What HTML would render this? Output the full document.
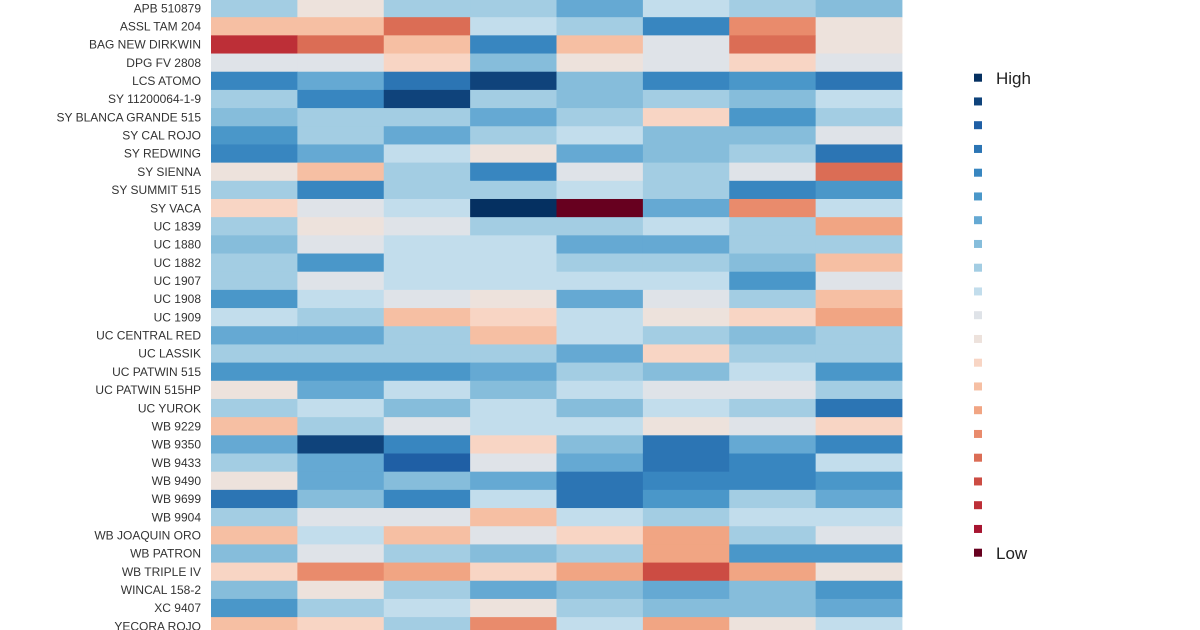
<!DOCTYPE html>
<html><head><meta charset="utf-8"><style>
html,body{margin:0;padding:0;background:#fff;width:1200px;height:630px;overflow:hidden}
svg text{font-family:"Liberation Sans",sans-serif}
</style></head><body>
<svg id="s" width="1200" height="630" xmlns="http://www.w3.org/2000/svg"></svg>
<script>
const pal=["#053061","#0f437b","#1f5fa5","#2c75b4","#3886c0","#4a97c9","#65a9d3","#86bddb","#a3cde3","#c2ddec","#dfe3e8","#ede2dc","#f8d5c4","#f6bfa3","#f1a583","#e98b6c","#db6d55","#cc4c43","#bd2f37","#a71530","#67001f"];
const rows=[
["APB 510879",[8,11,8,8,6,9,8,7]],
["ASSL TAM 204",[13,13,16,9,8,4,15,11]],
["BAG NEW DIRKWIN",[18,16,13,4,13,10,16,11]],
["DPG FV 2808",[10,10,12,7,11,10,12,10]],
["LCS ATOMO",[4,6,3,1,7,4,5,3]],
["SY 11200064-1-9",[8,4,1,8,7,8,7,9]],
["SY BLANCA GRANDE 515",[7,8,8,6,8,12,5,8]],
["SY CAL ROJO",[5,8,6,8,9,7,7,10]],
["SY REDWING",[4,6,9,11,6,7,8,3]],
["SY SIENNA",[11,13,8,4,10,8,10,16]],
["SY SUMMIT 515",[8,4,8,8,9,8,4,5]],
["SY VACA",[12,10,9,0,20,6,15,9]],
["UC 1839",[8,11,10,8,8,9,8,14]],
["UC 1880",[7,10,9,9,6,6,8,8]],
["UC 1882",[8,5,9,9,8,8,7,13]],
["UC 1907",[8,10,9,9,9,9,5,10]],
["UC 1908",[5,9,10,11,6,10,8,13]],
["UC 1909",[9,8,13,12,9,11,12,14]],
["UC CENTRAL RED",[6,6,8,13,9,8,7,8]],
["UC LASSIK",[8,8,8,8,6,12,8,8]],
["UC PATWIN 515",[5,5,5,6,8,7,9,5]],
["UC PATWIN 515HP",[11,6,9,7,9,10,10,8]],
["UC YUROK",[8,9,7,9,7,9,8,3]],
["WB 9229",[13,8,10,9,9,11,10,12]],
["WB 9350",[6,1,4,12,7,3,6,4]],
["WB 9433",[8,6,2,10,6,3,4,9]],
["WB 9490",[11,6,7,6,3,4,4,5]],
["WB 9699",[3,7,4,9,3,5,8,6]],
["WB 9904",[8,10,10,13,9,8,9,9]],
["WB JOAQUIN ORO",[13,9,13,10,12,14,8,10]],
["WB PATRON",[7,10,8,7,8,14,5,5]],
["WB TRIPLE IV",[12,15,14,12,14,17,14,11]],
["WINCAL 158-2",[7,11,8,6,7,6,7,5]],
["XC 9407",[5,8,9,11,8,7,7,6]],
["YECORA ROJO",[13,12,8,15,9,14,11,9]]];
let h="";const rh=18.18,x0=211,cw=86.375;
rows.forEach((r,i)=>{const y=-1+rh*i;
r[1].forEach((v,j)=>{h+=`<rect x="${(x0+cw*j).toFixed(2)}" y="${y.toFixed(2)}" width="${(cw+0.4).toFixed(2)}" height="${(rh+0.4).toFixed(2)}" fill="${pal[v]}"/>`;});
h+=`<text x="201" y="${(8+rh*i+4.3).toFixed(2)}" font-size="12" fill="#333" text-anchor="end">${r[0]}</text>`;});
for(let k=0;k<21;k++){const y=77.7+23.75*k;h+=`<rect x="974" y="${(y-4).toFixed(2)}" width="8" height="8" fill="${pal[k]}"/>`;}
h+=`<text x="996" y="84" font-size="17" fill="#222">High</text><text x="996" y="559" font-size="17" fill="#222">Low</text>`;
document.getElementById("s").innerHTML=h;
</script>
</body></html>
